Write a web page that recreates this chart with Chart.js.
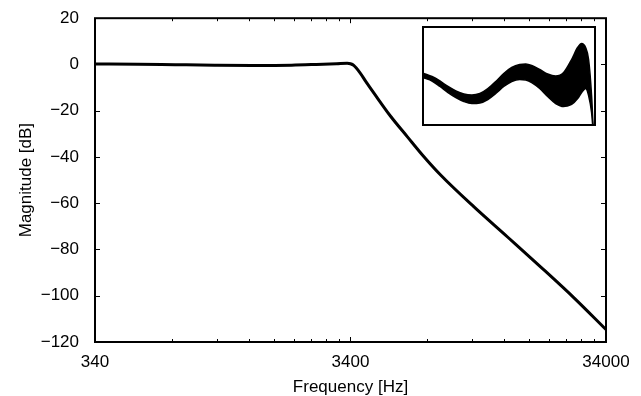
<!DOCTYPE html>
<html>
<head>
<meta charset="utf-8">
<script src="https://cdn.jsdelivr.net/npm/chart.js@4/dist/chart.umd.min.js"></script>
<style>
  html, body { margin: 0; padding: 0; background: #fff; }
  #wrap { position: relative; width: 641px; height: 396px; }
  #inset { position: absolute; left: 422px; top: 26px; width: 170px; height: 96px; border: 2px solid #000; background: #fff; }
</style>
</head>
<body>
<div id="wrap">
  <canvas id="magnitude" width="641" height="396"></canvas>
  <div id="inset"><canvas id="ripple" width="170" height="96"></canvas></div>
</div>
<script>
// frequency response of the filter bank (main plot)
var freqHz = [340, 500, 700, 1000, 1400, 2000, 2500, 3000, 3300, 3400, 3500, 3700, 3900, 4200, 4880, 5680, 6590, 7660, 10350, 14000, 18900, 25540, 34000];
var magDb  = [0.2, 0.1, -0.1, -0.3, -0.4, -0.3, 0.0, 0.3, 0.5, 0.3, -0.4, -3.5, -7.3, -12.4, -22.4, -31.3, -39.9, -47.8, -61.6, -74.6, -87.6, -101.0, -114.6];

// passband detail: spread of all the responses (upper / lower edge)
var rippleHz = [340, 379, 422, 471, 524, 584, 651, 726, 809, 901, 1004, 1119, 1247, 1354, 1468, 1636, 1823, 2032, 2265, 2524, 2738, 2891, 3052, 3178, 3309, 3400];
var rippleHi = [-0.211, -0.258, -0.328, -0.414, -0.484, -0.531, -0.547, -0.523, -0.445, -0.336, -0.211, -0.117, -0.070, -0.063, -0.086, -0.148, -0.219, -0.250, -0.195, 0.008, 0.195, 0.258, 0.195, 0.008, -0.555, -1.2];
var rippleLo = [-0.281, -0.328, -0.414, -0.508, -0.586, -0.648, -0.680, -0.672, -0.617, -0.523, -0.414, -0.336, -0.305, -0.313, -0.352, -0.445, -0.570, -0.680, -0.727, -0.695, -0.602, -0.508, -0.445, -0.555, -0.820, -1.2];

var xTicks = [340, 3400, 34000];
var yTicks = [-120, -100, -80, -60, -40, -20, 0, 20];

var FONT = "'Liberation Sans', Arial, Helvetica, sans-serif";

function pts(xs, ys) {
  return xs.map(function (v, i) { return { x: v, y: ys[i] }; });
}

// minor log ticks: 2..9 times each decade start
var xMinor = [];
xTicks.slice(0, -1).forEach(function (d) {
  for (var k = 2; k <= 9; k++) xMinor.push(d * k);
});

// box frame with inward ticks on all four sides
var frameTicks = {
  id: 'frameTicks',
  afterDraw: function (chart) {
    var ctx = chart.ctx, a = chart.chartArea;
    var sx = chart.scales.x, sy = chart.scales.y;
    ctx.save();
    ctx.strokeStyle = '#000';
    ctx.lineWidth = 1;
    ctx.beginPath();
    xMinor.forEach(function (v) {
      var px = Math.round(sx.getPixelForValue(v)) + 0.5;
      ctx.moveTo(px, a.bottom); ctx.lineTo(px, a.bottom - 3);
      ctx.moveTo(px, a.top); ctx.lineTo(px, a.top + 3);
    });
    xTicks.forEach(function (v) {
      var px = Math.round(sx.getPixelForValue(v)) + 0.5;
      ctx.moveTo(px, a.bottom); ctx.lineTo(px, a.bottom - 5);
      ctx.moveTo(px, a.top); ctx.lineTo(px, a.top + 5);
    });
    yTicks.forEach(function (v) {
      var py = Math.round(sy.getPixelForValue(v)) + 0.5;
      ctx.moveTo(a.left, py); ctx.lineTo(a.left + 5, py);
      ctx.moveTo(a.right, py); ctx.lineTo(a.right - 5, py);
    });
    ctx.stroke();
    ctx.lineWidth = 2;
    ctx.strokeRect(a.left, a.top, a.right - a.left, a.bottom - a.top);
    ctx.restore();
  }
};

new Chart(document.getElementById('magnitude'), {
  type: 'line',
  data: {
    datasets: [{
      data: pts(freqHz, magDb),
      borderColor: '#000',
      borderWidth: 3,
      pointRadius: 0,
      cubicInterpolationMode: 'monotone',
      fill: false
    }]
  },
  options: {
    responsive: false,
    animation: false,
    devicePixelRatio: 1,
    layout: { padding: { top: 16, right: 35, bottom: 0, left: 0 } },
    plugins: { legend: { display: false }, tooltip: { enabled: false } },
    scales: {
      x: {
        type: 'logarithmic',
        min: 340,
        max: 34000,
        grid: { display: false },
        border: { display: false },
        afterBuildTicks: function (s) { s.ticks = xTicks.map(function (v) { return { value: v }; }); },
        afterFit: function (s) { s.height = 54; },
        ticks: {
          autoSkip: false,
          maxRotation: 0,
          padding: 2,
          color: '#000',
          font: { family: FONT, size: 17 },
          callback: function (v) { return String(v); }
        },
        title: {
          display: true,
          text: 'Frequency [Hz]',
          color: '#000',
          font: { family: FONT, size: 17, lineHeight: 1 },
          padding: { top: 0, bottom: 0 }
        }
      },
      y: {
        min: -120,
        max: 20,
        grid: { display: false },
        border: { display: false },
        afterBuildTicks: function (s) { s.ticks = yTicks.map(function (v) { return { value: v }; }); },
        afterFit: function (s) { s.width = 95; },
        ticks: {
          padding: 8,
          color: '#000',
          font: { family: FONT, size: 17 },
          callback: function (v) { return String(v).replace('-', '\u2212'); }
        },
        title: {
          display: true,
          text: 'Magnitude [dB]',
          color: '#000',
          font: { family: FONT, size: 17, lineHeight: 1 },
          padding: { top: 18, bottom: 0 }
        }
      }
    }
  },
  plugins: [frameTicks]
});

// inset: passband ripple band
new Chart(document.getElementById('ripple'), {
  type: 'line',
  data: {
    datasets: [{
      data: pts(rippleHz, rippleHi),
      borderColor: '#000',
      backgroundColor: '#000',
      borderWidth: 1.5,
      pointRadius: 0,
      cubicInterpolationMode: 'monotone',
      fill: '+1'
    }, {
      data: pts(rippleHz, rippleLo),
      borderColor: '#000',
      borderWidth: 1.5,
      pointRadius: 0,
      cubicInterpolationMode: 'monotone',
      fill: false
    }]
  },
  options: {
    responsive: false,
    animation: false,
    devicePixelRatio: 1,
    layout: { padding: 0 },
    plugins: { legend: { display: false }, tooltip: { enabled: false } },
    scales: {
      x: { type: 'logarithmic', min: 340, max: 3420, display: false },
      y: { min: -1.0, max: 0.5, display: false }
    }
  }
});
</script>
</body>
</html>
